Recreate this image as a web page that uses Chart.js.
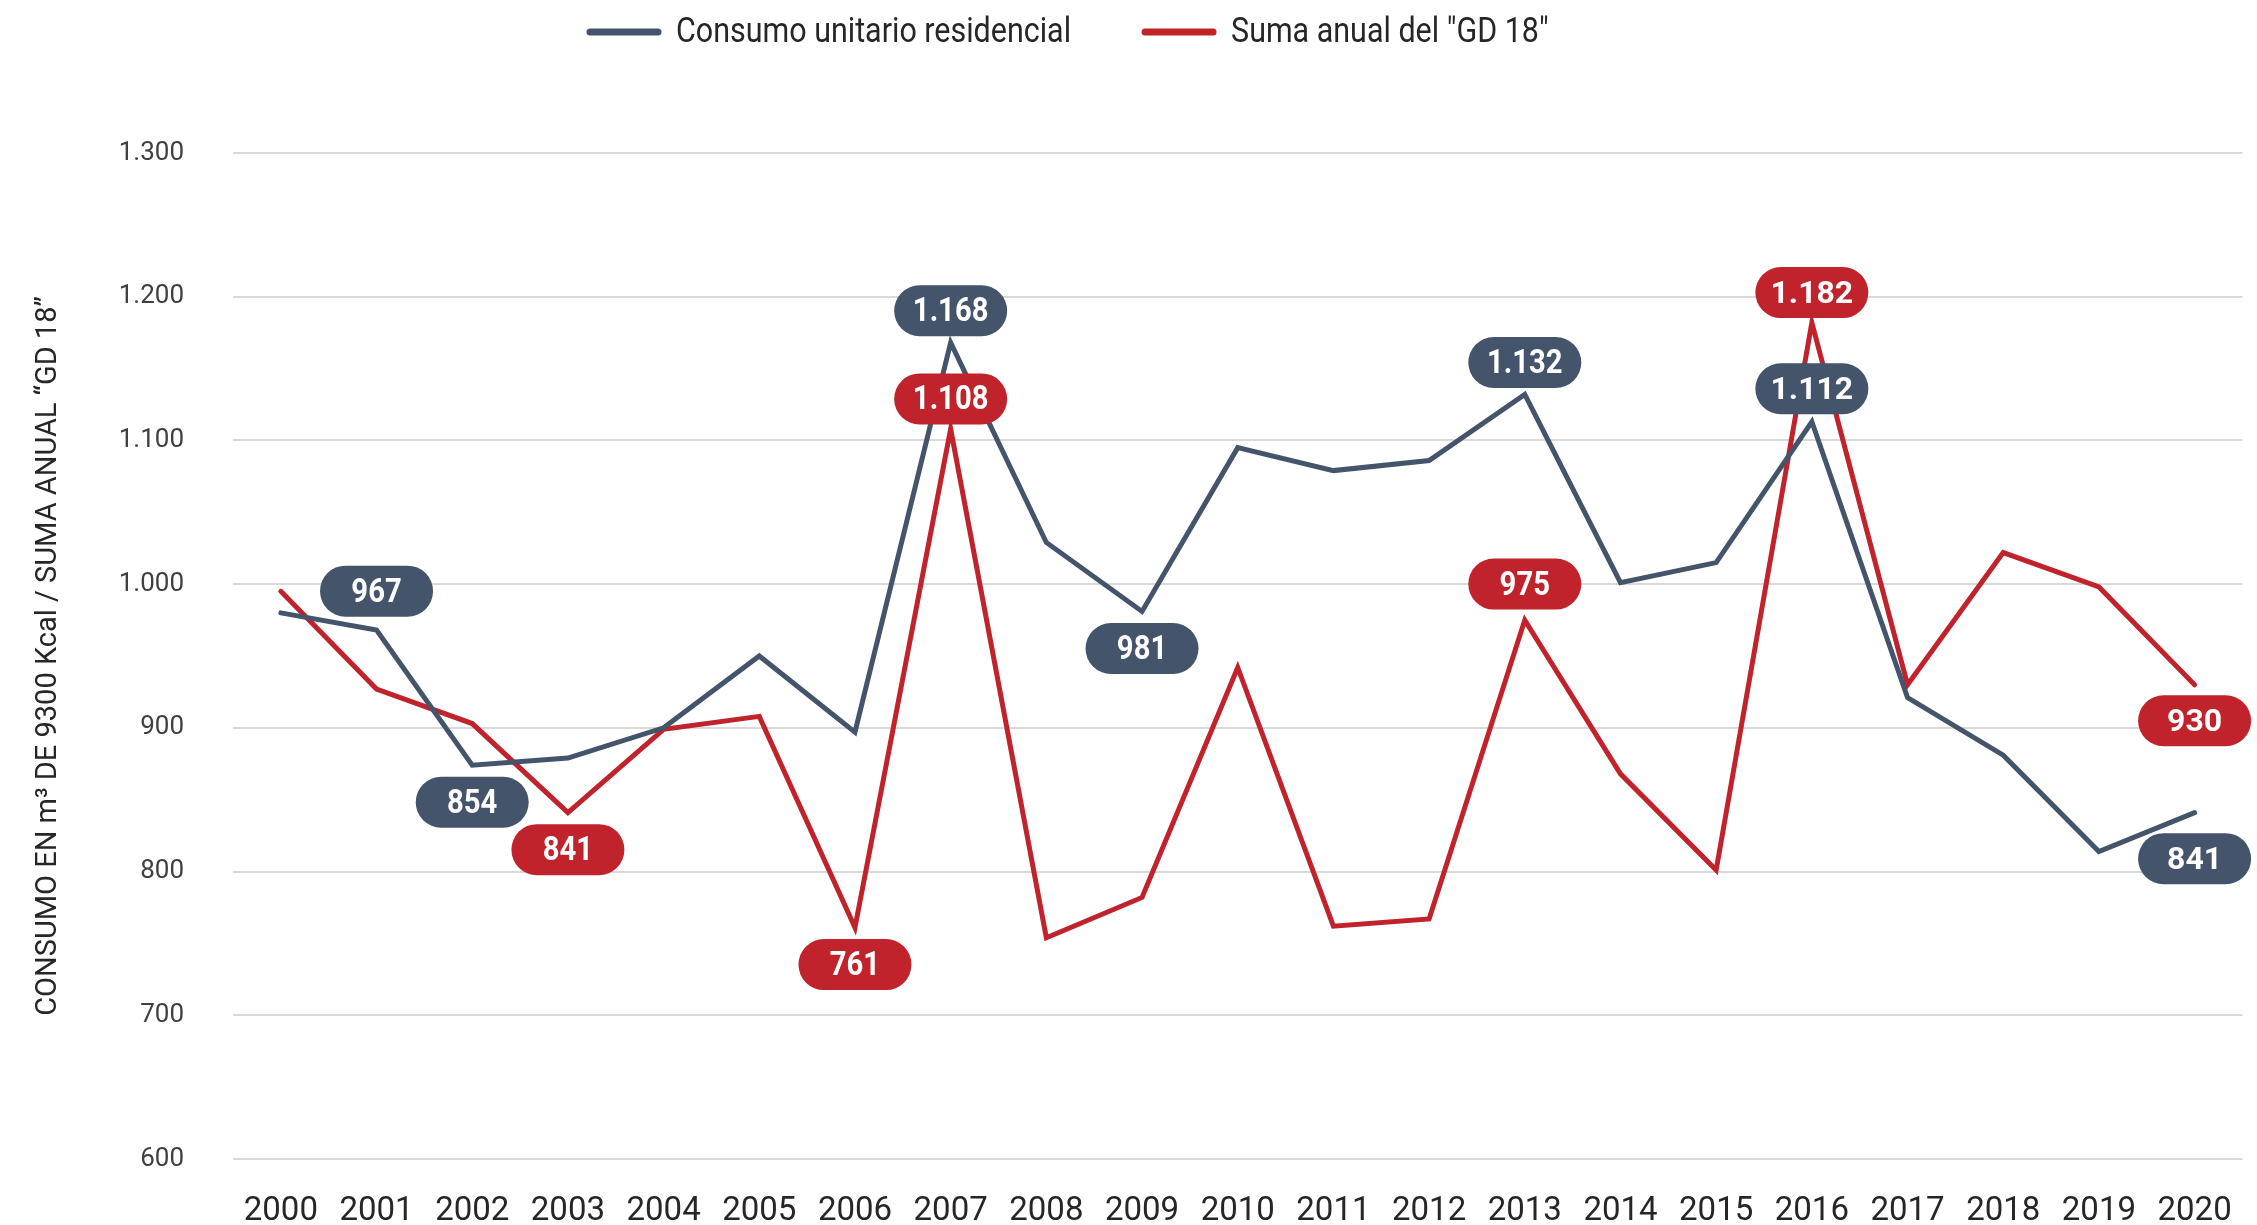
<!DOCTYPE html>
<html lang="es">
<head>
<meta charset="utf-8">
<title>Consumo unitario residencial y suma anual GD 18</title>
<script src="https://cdn.jsdelivr.net/npm/chart.js@4.4.1/dist/chart.umd.min.js"></script>
<style>
  html, body { margin: 0; padding: 0; background: #fff; }
  #wrap { width: 2257px; height: 1225px; position: relative; }
</style>
</head>
<body>
<div id="wrap"><canvas id="chart"></canvas></div>
<script>
// ── Data ────────────────────────────────────
var years = ["2000", "2001", "2002", "2003", "2004", "2005", "2006", "2007", "2008", "2009", "2010",
  "2011", "2012", "2013", "2014", "2015", "2016", "2017", "2018", "2019", "2020"];

var consumo = [980, 968, 874, 879, 900, 950, 897, 1168, 1029, 981, 1095,
  1079, 1086, 1132, 1001, 1015, 1113, 921, 881, 814, 841];

var gd18 = [995, 927, 903, 841, 899, 908, 761, 1108, 754, 782, 942,
  762, 767, 975, 868, 801, 1182, 930, 1022, 998, 930];

// values printed in the callouts (null = no callout)
var consumoCallouts = [null, 967, 854, null, null, null, null, 1168, null, 981, null,
  null, null, 1132, null, null, 1112, null, null, null, 841];
var gd18Callouts = [null, null, null, 841, null, null, 761, 1108, null, null, null,
  null, null, 975, null, null, 1182, null, null, null, 930];

var yTicks = [600, 700, 800, 900, 1000, 1100, 1200, 1300];

var seriesNames = ["Consumo unitario residencial", "Suma anual del \"GD 18\""];
var yTitle = "CONSUMO EN m\u00B3 DE 9300 Kcal / SUMA ANUAL \u201CGD 18\u201D";

// ── Styles ──────────────────────────────────
var BLUE = "#44546a";
var RED = "#c0232b";
var SANS = "Roboto, 'Liberation Sans', sans-serif";
var NARROW = 0.87; // no condensed face installed, so squeeze Roboto

// callout placement: dataset, offset from the point, condensed or not
var calloutStyle = [
  { set: 0, i: 1, dy: -39, cond: true },
  { set: 0, i: 2, dy: 37, cond: true },
  { set: 0, i: 7, dy: -32, cond: true },
  { set: 0, i: 9, dy: 37, cond: true },
  { set: 0, i: 13, dy: -32, cond: true },
  { set: 0, i: 16, dy: -33, cond: false },
  { set: 0, i: 20, dy: 46, cond: false },
  { set: 1, i: 3, dy: 37, cond: true },
  { set: 1, i: 6, dy: 37, cond: true },
  { set: 1, i: 7, dy: -30, cond: true },
  { set: 1, i: 13, dy: -36, cond: true },
  { set: 1, i: 16, dy: -30, cond: false },
  { set: 1, i: 20, dy: 36, cond: false },
];

function fmt(v) {
  return String(v).replace(/\B(?=(\d{3})+(?!\d))/g, ".");
}

function squeezedText(ctx, text, x, y, k) {
  ctx.save();
  ctx.translate(x, y);
  ctx.scale(k, 1);
  ctx.fillText(text, 0, 0);
  ctx.restore();
}

// ── Plugins ─────────────────────────────────
var calloutPlugin = {
  id: "callouts",
  afterDatasetsDraw: function (chart) {
    var ctx = chart.ctx;
    calloutStyle.forEach(function (c) {
      var pt = chart.getDatasetMeta(c.set).data[c.i];
      var vals = c.set === 0 ? consumoCallouts : gd18Callouts;
      var cx = pt.x;
      var cy = pt.y + c.dy;
      var w = 113, h = 51;
      ctx.save();
      ctx.fillStyle = c.set === 0 ? BLUE : RED;
      ctx.beginPath();
      ctx.roundRect(cx - w / 2, cy - h / 2, w, h, h / 2);
      ctx.fill();
      ctx.fillStyle = "#ffffff";
      ctx.textAlign = "center";
      ctx.textBaseline = "middle";
      if (c.cond) {
        ctx.font = "bold 34px " + SANS;
        squeezedText(ctx, fmt(vals[c.i]), cx, cy + 2, 0.86);
      } else {
        ctx.font = "bold 32px " + SANS;
        ctx.fillText(fmt(vals[c.i]), cx, cy + 2);
      }
      ctx.restore();
    });
  },
};

var legendPlugin = {
  id: "topLegend",
  afterDraw: function (chart) {
    var ctx = chart.ctx;
    var x = 587, y = 32;
    ctx.save();
    ctx.font = "35px " + SANS;
    ctx.textBaseline = "middle";
    ctx.textAlign = "left";
    ctx.lineCap = "round";
    ctx.lineWidth = 7;
    chart.data.datasets.forEach(function (ds) {
      ctx.strokeStyle = ds.borderColor;
      ctx.beginPath();
      ctx.moveTo(x + 3, y);
      ctx.lineTo(x + 71, y);
      ctx.stroke();
      ctx.fillStyle = "#262626";
      squeezedText(ctx, ds.label, x + 89, y + 1, NARROW);
      x += 89 + ctx.measureText(ds.label).width * NARROW + 71;
    });
    ctx.restore();
  },
};

// ── Chart ───────────────────────────────────
new Chart(document.getElementById("chart"), {
  type: "line",
  data: {
    labels: years,
    datasets: [
      {
        label: seriesNames[0],
        data: consumo,
        borderColor: BLUE,
        backgroundColor: BLUE,
        borderWidth: 5,
        pointRadius: 0,
        tension: 0,
        borderJoinStyle: "miter",
        borderCapStyle: "round",
      },
      {
        label: seriesNames[1],
        data: gd18,
        borderColor: RED,
        backgroundColor: RED,
        borderWidth: 5,
        pointRadius: 0,
        tension: 0,
        borderJoinStyle: "miter",
        borderCapStyle: "round",
      },
    ],
  },
  plugins: [calloutPlugin, legendPlugin],
  options: {
    responsive: true,
    maintainAspectRatio: false,
    animation: false,
    devicePixelRatio: 1,
    layout: { padding: { top: 153, right: 13, bottom: 0, left: 0 } },
    plugins: {
      legend: { display: false },
      tooltip: { enabled: false },
    },
    scales: {
      x: {
        offset: true,
        grid: { display: false },
        border: { display: false },
        ticks: {
          padding: 25,
          maxRotation: 0,
          autoSkip: false,
          color: "#262626",
          font: { family: SANS, size: 33 },
        },
        afterFit: function (s) { s.height = 66; },
      },
      y: {
        min: 600,
        max: 1300,
        afterBuildTicks: function (s) {
          s.ticks = yTicks.map(function (v) { return { value: v }; });
        },
        grid: { color: "#d9d9d9", lineWidth: 2, drawTicks: false },
        border: { display: false },
        ticks: {
          padding: 49,
          color: "#404040",
          font: { family: SANS, size: 26 },
          callback: function (v) { return fmt(v); },
        },
        title: {
          display: true,
          text: yTitle,
          color: "#262626",
          font: { family: SANS, size: 29 },
          padding: { top: 31, bottom: 0 },
        },
        afterFit: function (s) { s.width = 233; },
      },
    },
  },
});
</script>
</body>
</html>
